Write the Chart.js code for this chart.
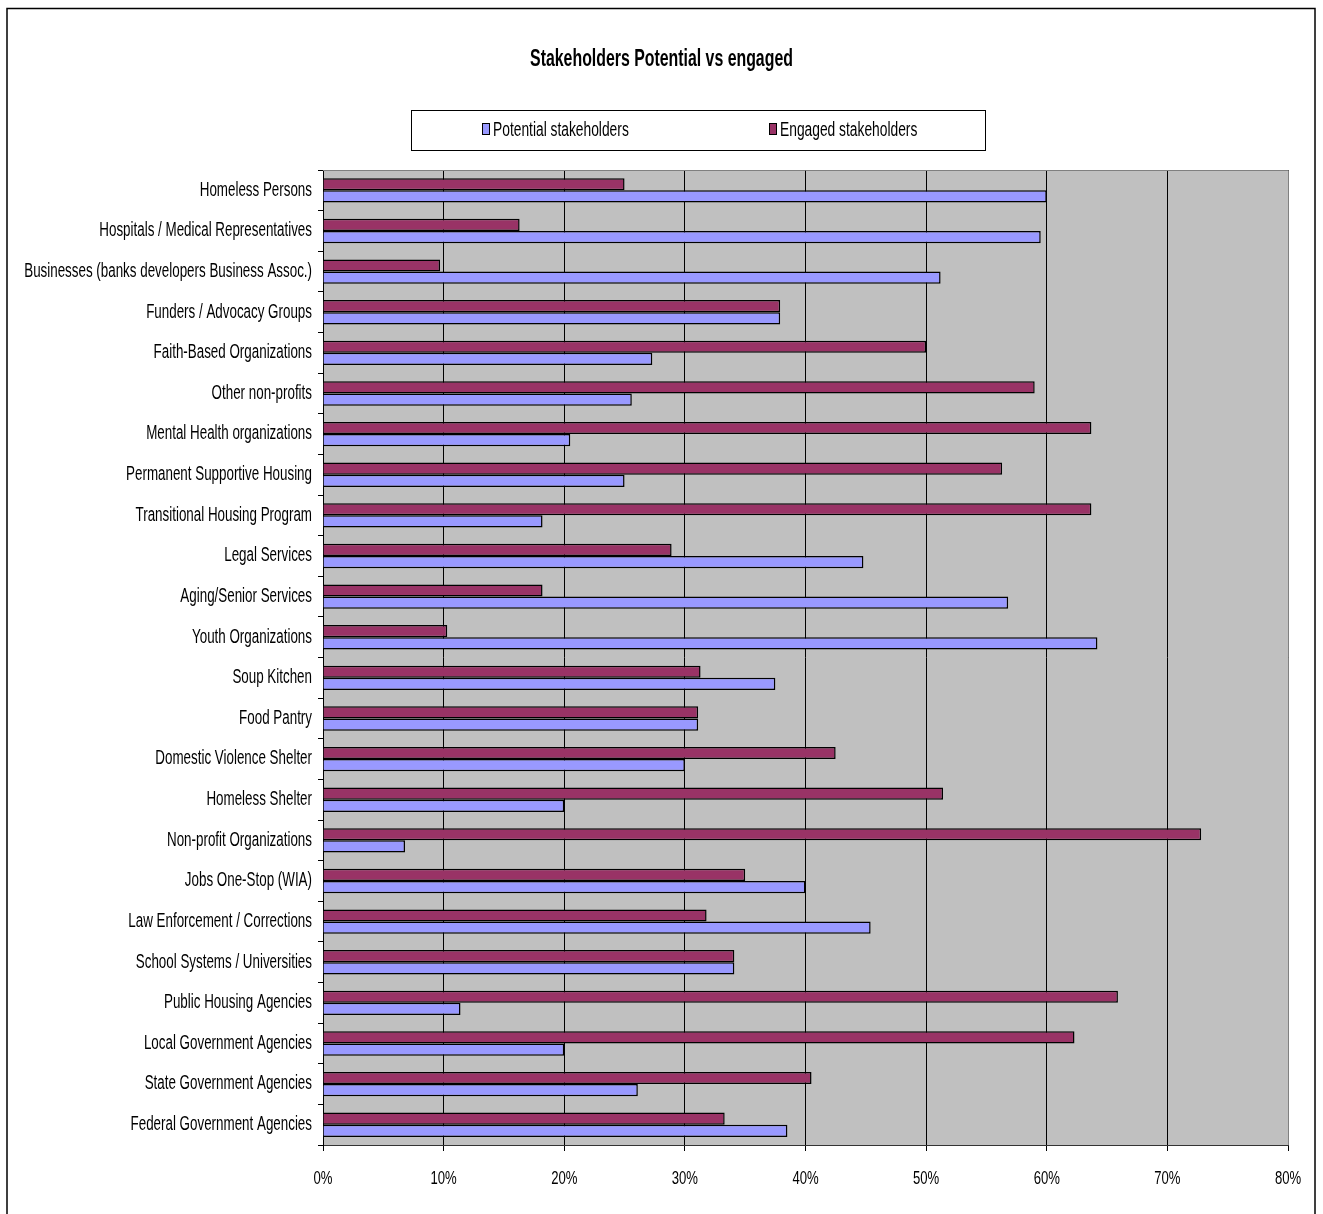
<!DOCTYPE html>
<html>
<head>
<meta charset="utf-8">
<script src="https://cdn.jsdelivr.net/npm/chart.js@4/dist/chart.umd.min.js"></script>
<style>
html,body{margin:0;padding:0;background:#fff;overflow:hidden;}
canvas{display:block;}
</style>
</head>
<body>
<canvas id="c" width="1323" height="1214"></canvas>
<script>
const categories = [
  "Homeless Persons",
  "Hospitals / Medical Representatives",
  "Businesses (banks developers Business Assoc.)",
  "Funders / Advocacy Groups",
  "Faith-Based Organizations",
  "Other non-profits",
  "Mental Health organizations",
  "Permanent Supportive Housing",
  "Transitional Housing Program",
  "Legal Services",
  "Aging/Senior Services",
  "Youth Organizations",
  "Soup Kitchen",
  "Food Pantry",
  "Domestic Violence Shelter",
  "Homeless Shelter",
  "Non-profit Organizations",
  "Jobs One-Stop (WIA)",
  "Law Enforcement / Corrections",
  "School Systems / Universities",
  "Public Housing Agencies",
  "Local Government Agencies",
  "State Government Agencies",
  "Federal Government Agencies"
];
const potential = [60.0, 59.5, 51.2, 37.9, 27.3, 25.6, 20.5, 25.0, 18.2, 44.8, 56.8, 64.2, 37.5, 31.1, 30.0, 20.0, 6.8, 40.0, 45.4, 34.1, 11.4, 20.0, 26.1, 38.5];
const engaged   = [25.0, 16.3, 9.7, 37.9, 50.0, 59.0, 63.7, 56.3, 63.7, 28.9, 18.2, 10.3, 31.3, 31.1, 42.5, 51.4, 72.8, 35.0, 31.8, 34.1, 65.9, 62.3, 40.5, 33.3];
const xTicks = [0, 10, 20, 30, 40, 50, 60, 70, 80];
const chartTitle = "Stakeholders Potential vs engaged";
const seriesNames = ["Potential stakeholders", "Engaged stakeholders"];

// Narrow (Arial Narrow-like) rendering: horizontally condense text about its anchor point
const K = 0.69;
(function () {
  const proto = CanvasRenderingContext2D.prototype;
  const of = proto.fillText, om = proto.measureText;
  proto.fillText = function (t, x, y, mw) {
    this.save();
    this.translate(x, y);
    this.scale(K, 1);
    of.call(this, t, 0, 0);
    this.restore();
  };
  proto.measureText = function (t) {
    const m = om.call(this, t);
    return {
      width: m.width * K,
      actualBoundingBoxAscent: m.actualBoundingBoxAscent,
      actualBoundingBoxDescent: m.actualBoundingBoxDescent,
      actualBoundingBoxLeft: m.actualBoundingBoxLeft * K,
      actualBoundingBoxRight: m.actualBoundingBoxRight * K,
      fontBoundingBoxAscent: m.fontBoundingBoxAscent,
      fontBoundingBoxDescent: m.fontBoundingBoxDescent
    };
  };
})();

const FONT = "'Liberation Sans', Arial, sans-serif";
const BLUE = "#9999FF", MAROON = "#993366";

const decor = {
  id: 'decor',
  beforeDraw(chart) {
    const {ctx, chartArea: a} = chart;
    ctx.save();
    ctx.fillStyle = '#C0C0C0';
    ctx.fillRect(a.left, a.top, a.right - a.left, a.bottom - a.top);
    ctx.restore();
  },
  afterDatasetsDraw(chart) {
    const {ctx, chartArea: a} = chart;
    ctx.save();
    ctx.strokeStyle = '#808080';
    ctx.lineWidth = 1;
    ctx.beginPath();
    ctx.moveTo(a.left, a.top + 0.5);
    ctx.lineTo(a.right + 0.5, a.top + 0.5);
    ctx.lineTo(a.right + 0.5, a.bottom);
    ctx.stroke();
    ctx.restore();
  },
  afterDraw(chart) {
    const ctx = chart.ctx;
    ctx.save();
    // outer frame
    ctx.strokeStyle = '#000';
    ctx.lineWidth = 1.5;
    ctx.strokeRect(7, 8.5, 1308, 1300);
    // legend
    const lx = 411, ly = 110, lw = 574, lh = 40;
    ctx.lineWidth = 1;
    ctx.strokeStyle = '#000';
    ctx.strokeRect(lx + 0.5, ly + 0.5, lw, lh);
    const items = [
      {label: seriesNames[0], color: chart.data.datasets[1].backgroundColor, x: 482},
      {label: seriesNames[1], color: chart.data.datasets[0].backgroundColor, x: 769}
    ];
    ctx.font = "20px " + FONT;
    ctx.textBaseline = 'middle';
    ctx.textAlign = 'left';
    items.forEach(it => {
      ctx.fillStyle = it.color;
      ctx.fillRect(it.x + 0.5, 123.5, 7, 11);
      ctx.strokeStyle = '#000';
      ctx.strokeRect(it.x + 0.5, 123.5, 7, 11);
      ctx.fillStyle = '#000';
      ctx.fillText(it.label, it.x + 11, 130);
    });
    ctx.restore();
  }
};

new Chart(document.getElementById('c'), {
  type: 'bar',
  data: {
    labels: categories,
    datasets: [
      {label: seriesNames[1], data: engaged, backgroundColor: MAROON, borderColor: '#000', borderWidth: 1.5, barPercentage: 1.0, categoryPercentage: 0.6},
      {label: seriesNames[0], data: potential, backgroundColor: BLUE, borderColor: '#000', borderWidth: 1.5, barPercentage: 1.0, categoryPercentage: 0.6}
    ]
  },
  options: {
    indexAxis: 'y',
    responsive: false,
    animation: false,
    layout: {padding: {left: 35, right: 35, top: 0, bottom: 0}},
    plugins: {
      legend: {display: false},
      tooltip: {enabled: false},
      title: {
        display: true,
        text: chartTitle,
        color: '#000',
        font: {family: FONT, size: 23, weight: 'bold'},
        padding: {top: 46, bottom: 96.4}
      }
    },
    scales: {
      x: {
        min: 0, max: 80,
        afterBuildTicks(scale) { scale.ticks = xTicks.map(v => ({value: v})); },
        afterFit(scale) { scale.height = 69; },
        ticks: {
          color: '#000',
          font: {family: FONT, size: 19},
          padding: 16,
          callback: v => v + '%'
        },
        grid: {color: '#000', lineWidth: 1, tickLength: 6, tickColor: '#000', drawTicks: true},
        border: {display: true, color: '#333', width: 1}
      },
      y: {
        afterFit(scale) {
          scale.width = 288;
          // let long category labels extend past the axis box (no clipping)
          scale._computeLabelArea = () => undefined;
        },
        ticks: {
          color: '#000',
          font: {family: FONT, size: 19.4},
          padding: 6,
          autoSkip: false
        },
        grid: {offset: true, drawOnChartArea: false, drawTicks: true, tickLength: 5, tickColor: '#000'},
        border: {display: true, color: '#000', width: 1}
      }
    }
  },
  plugins: [decor]
});
</script>
</body>
</html>
